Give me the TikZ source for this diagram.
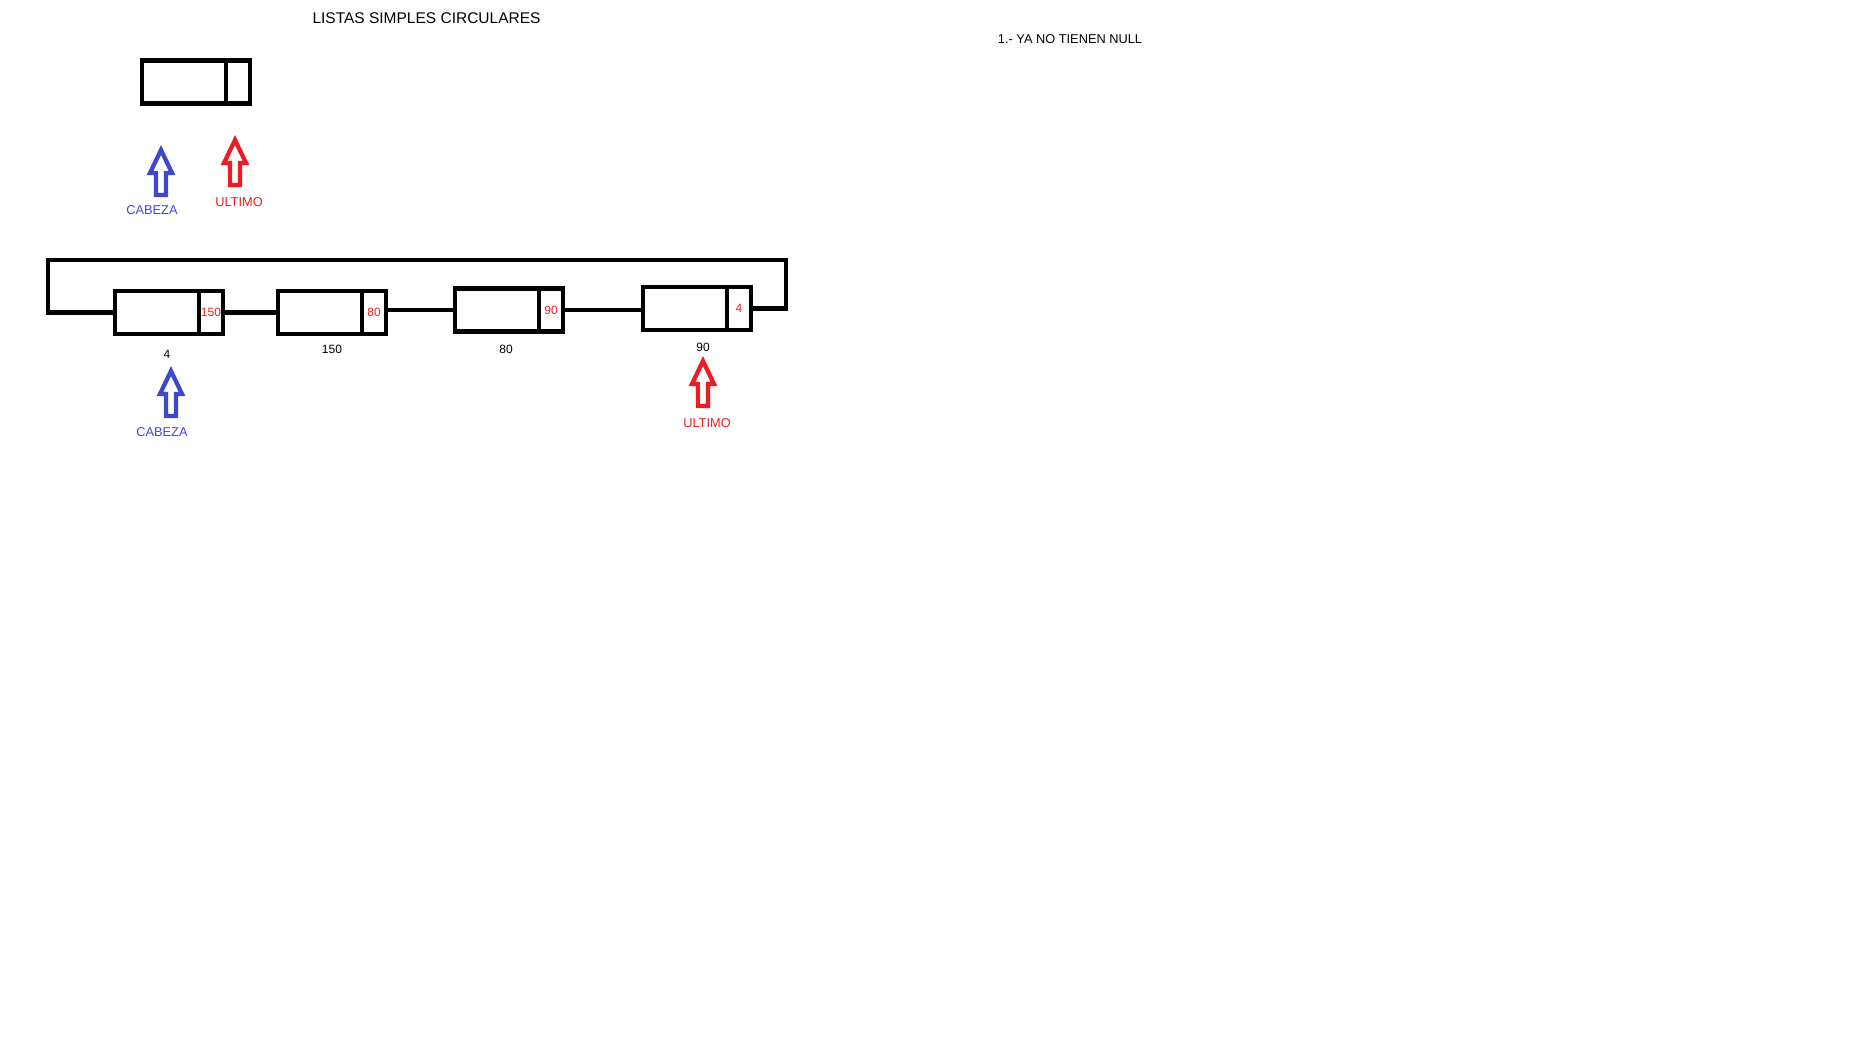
\documentclass[tikz,border=0pt]{standalone}
\usepackage{fontspec}
\setmainfont{Liberation Sans}
\usetikzlibrary{positioning}
\definecolor{azulpaint}{HTML}{3F48CC}
\definecolor{rojopaint}{HTML}{ED1C24}
\tikzset{
  dato/.style={draw, rectangle, line width=4.3pt, outer sep=0pt, inner sep=0pt, minimum width=84pt, minimum height=43pt, anchor=west},
  sig/.style={draw, rectangle, line width=4.3pt, outer sep=0pt, inner sep=0pt, minimum width=24pt, minimum height=43pt, text=rojopaint, font=\fontsize{12}{14}\selectfont},
  enlace/.style={line width=4.3pt},
  direccion/.style={font=\fontsize{12}{14}\selectfont},
  etiqueta/.style={font=\fontsize{12.8}{15}\selectfont},
  puntero/.pic={\draw[line width=4.3pt] (0,0) -- (-11,23) -- (-5,23) -- (-5,45) -- (5,45) -- (5,23) -- (11,23) -- cycle;}
}

\begin{document}
\begin{tikzpicture}[x=1pt, y=-1pt]
\useasboundingbox (0,0) rectangle (1850,1052);
% titulos
\node[font=\fontsize{15.5}{18}\selectfont] (titulo) at (426.5,18) {LISTAS SIMPLES CIRCULARES};
\node[etiqueta] (nota) at (1070,39) {1.- YA NO TIENEN NULL};
% nodo suelto
\node[dato] (d0) at (142,82) {};
\node[sig, right=0pt of d0] (p0) {};
\pic[color=azulpaint] at (161,150) {puntero};
\node[etiqueta, text=azulpaint] (cab0) at (152,210) {CABEZA};
\pic[color=rojopaint] at (235,140) {puntero};
\node[etiqueta, text=rojopaint] (ult0) at (239,202) {ULTIMO};
% lista circular
\node[dato] (d1) at (115,312.5) {};
\node[sig, right=0pt of d1] (p1) {150};
\node[dato] (d2) at (278,312.5) {};
\node[sig, right=0pt of d2] (p2) {80};
\node[dato] (d3) at (455,310) {};
\node[sig, right=0pt of d3] (p3) {90};
\node[dato] (d4) at (643,308.5) {};
\node[sig, right=0pt of d4] (p4) {4};
\node[direccion] (a1) at (167,354) {4};
\node[direccion] (a2) at (332,349) {150};
\node[direccion] (a3) at (506,349) {80};
\node[direccion] (a4) at (703,347) {90};
\draw[enlace] (p1.east) -- (d2.west);
\draw[enlace] (p2.east |- d3.west) -- (d3.west);
\draw[enlace] (p3.east) -- (p3.east -| d4.west);
\coordinate (esqD) at (786,260);
\coordinate (esqI) at (48,260);
\draw[enlace] (p4.east) -| (esqD) -- (esqI) |- (d1.west);
% punteros
\pic[color=azulpaint] at (171,371) {puntero};
\node[etiqueta, text=azulpaint] (cab1) at (162,432) {CABEZA};
\pic[color=rojopaint] at (703,361) {puntero};
\node[etiqueta, text=rojopaint] (ult1) at (707,423) {ULTIMO};
\end{tikzpicture}
\end{document}
